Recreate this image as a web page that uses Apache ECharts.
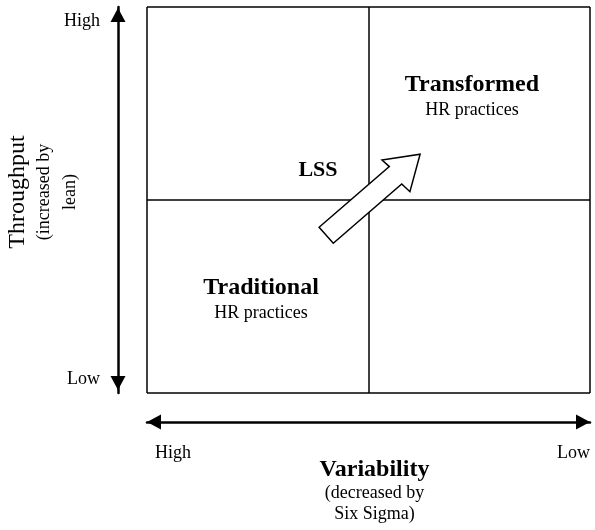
<!DOCTYPE html>
<html>
<head>
<meta charset="utf-8">
<script src="https://cdn.jsdelivr.net/npm/echarts@6/dist/echarts.min.js"></script>
<style>
html, body { margin: 0; padding: 0; background: #fff; }
#chart { width: 595px; height: 530px; }
</style>
</head>
<body>
<div id="chart"></div>
<script>
// tick labels at value 0 / 1 / 2 of each axis
var xTickLabels = ['High', '', 'Low'];
var yTickLabels = ['Low', '', 'High'];

// quadrant captions, placed in data units (axes run 0..2)
var quadrantTitles = ['Transformed', 'Traditional'];
var quadrantSubtitles = ['HR practices', 'HR practices'];
var quadrantCenters = [[1.467, 1.534], [0.515, 0.482]];

var arrowLabel = 'LSS';
var arrowLabelAt = [0.772, 1.155];
// block arrow outline, data units
var lssArrow = [
    [0.777, 0.859], [1.094, 1.173], [1.061, 1.207], [1.233, 1.237],
    [1.187, 1.043], [1.150, 1.083], [0.841, 0.776]
];

var serif = "'Liberation Serif', 'Times New Roman', serif";

var dom = document.getElementById('chart');
var myChart = echarts.init(dom);

var option = {
    animation: false,
    grid: { left: 147, top: 7, right: 5, bottom: 137, containLabel: false, outerBoundsMode: 'none' },
    xAxis: {
        type: 'value', min: 0, max: 2, interval: 1, offset: 29,
        axisLine: {
            show: true, onZero: false, symbol: ['triangle', 'triangle'], symbolSize: [15, 14], symbolOffset: [7, -7],
            lineStyle: { color: '#000', width: 2.5 }
        },
        axisTick: { show: false },
        splitLine: { show: true, showMinLine: true, showMaxLine: true, lineStyle: { color: '#000', width: 1.5 } },
        axisLabel: {
            formatter: function (v) { return xTickLabels[v]; },
            margin: 22, fontSize: 18, color: '#000', fontFamily: serif,
            alignMinLabel: 'left', alignMaxLabel: 'right', padding: [0, 0, 0, 8]
        },
        name: '{t|Variability}\n{s|(decreased by}\n{s|Six Sigma)}',
        nameLocation: 'middle', nameGap: 35, nameMoveOverlap: false,
        nameTextStyle: {
            color: '#000', fontFamily: serif, padding: [0, 0, 0, 12],
            rich: {
                t: { fontSize: 24, fontWeight: 'bold', lineHeight: 26, fontFamily: serif, color: '#000' },
                s: { fontSize: 18, lineHeight: 21, fontFamily: serif, color: '#000' }
            }
        }
    },
    yAxis: {
        type: 'value', min: 0, max: 2, interval: 1, offset: 29,
        axisLine: {
            show: true, onZero: false, symbol: ['triangle', 'triangle'], symbolSize: [15, 14], symbolOffset: [10, -8],
            lineStyle: { color: '#000', width: 2.5 }
        },
        axisTick: { show: false },
        splitLine: { show: true, showMinLine: true, showMaxLine: true, lineStyle: { color: '#000', width: 1.5 } },
        axisLabel: {
            formatter: function (v) { return yTickLabels[v]; },
            margin: 18, fontSize: 18, color: '#000', fontFamily: serif, lineHeight: 28,
            verticalAlignMaxLabel: 'top', verticalAlignMinLabel: 'bottom'
        },
        name: '{t|Throughput}\n{s|(increased by}\n{s|lean)}',
        nameLocation: 'middle', nameRotate: 90, nameGap: 35, nameMoveOverlap: false,
        nameTextStyle: {
            color: '#000', fontFamily: serif, padding: [0, 0, 0, 16],
            rich: {
                t: { fontSize: 24, lineHeight: 26, fontFamily: serif, color: '#000' },
                s: { fontSize: 18, lineHeight: 26, fontFamily: serif, color: '#000' }
            }
        }
    },
    series: [
        {
            type: 'custom', coordinateSystem: 'cartesian2d', silent: true, z: 5,
            data: [[0, 0]],
            renderItem: function (params, api) {
                var pts = lssArrow.map(function (p) { return api.coord(p); });
                return {
                    type: 'polygon',
                    shape: { points: pts },
                    style: { fill: '#fff', stroke: '#000', lineWidth: 1.5 }
                };
            }
        },
        {
            type: 'scatter', silent: true, symbolSize: 0, z: 6,
            itemStyle: { opacity: 1 },
            data: quadrantTitles.map(function (t, i) {
                return { value: quadrantCenters[i], name: t, sub: quadrantSubtitles[i] };
            }),
            label: {
                show: true, position: 'inside', fontFamily: serif, color: '#000',
                textBorderWidth: 0, textBorderColor: 'transparent',
                formatter: function (p) { return '{t|' + p.data.name + '}\n{s|' + p.data.sub + '}'; },
                rich: {
                    t: { fontSize: 24, fontWeight: 'bold', lineHeight: 26, fontFamily: serif, color: '#000' },
                    s: { fontSize: 18, lineHeight: 24, fontFamily: serif, color: '#000' }
                }
            }
        },
        {
            type: 'scatter', silent: true, symbolSize: 0, z: 6,
            itemStyle: { opacity: 1 },
            data: [{ value: arrowLabelAt, name: arrowLabel }],
            label: {
                show: true, position: 'inside', formatter: '{b}',
                textBorderWidth: 0, textBorderColor: 'transparent',
                fontSize: 22, fontWeight: 'bold', fontFamily: serif, color: '#000'
            }
        }
    ]
};

if (option && typeof option === 'object') {
    myChart.setOption(option, true);
}
</script>
</body>
</html>
